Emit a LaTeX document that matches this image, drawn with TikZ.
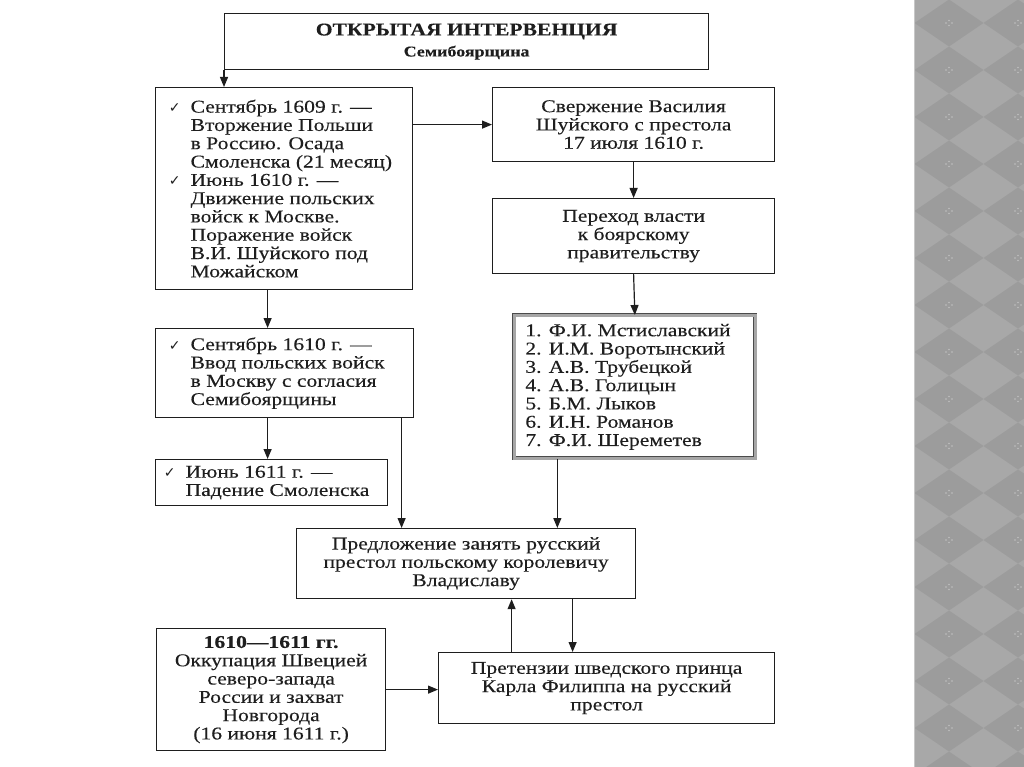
\documentclass[tikz,border=0pt]{standalone}
\usepackage{fontspec}
\setmainfont{Liberation Serif}[FakeStretch=1.2, FakeBold=0.25]
\newfontfamily\symfont{DejaVu Sans}
\usetikzlibrary{arrows.meta, positioning}
\definecolor{ink}{HTML}{1E1E1E}
\definecolor{bandgray}{HTML}{A8A8A8}
\definecolor{banddark}{HTML}{9C9C9C}
\newcommand{\boxfont}{\fontsize{18}{18.3}\selectfont}
\newcommand{\chk}{\llap{{\symfont\fontsize{14}{14}\selectfont ✓}\hspace{10pt}}}
% left-aligned block of lines, indented by #1 inside a box #2 wide
\newcommand{\listtext}[3]{\begin{minipage}{#2}\leftskip=#1\leavevmode #3\end{minipage}}
\tikzset{
    box/.style={rectangle, draw=ink, line width=1.2pt, inner sep=0pt, anchor=north west, align=center, text=ink, font=\boxfont},
    arrow/.style={-{Triangle[length=10pt,width=8pt]}, line width=1.2pt, ink},
}

\begin{document}
\begin{tikzpicture}[x=1pt, y=-1pt]
\useasboundingbox (0,0) rectangle (1024,767);

% Decorative band on the right
\fill[bandgray] (914,0) rectangle (1024,767);
\begin{scope}
  \clip (914,0) rectangle (1024,767);
  \foreach \cy in {-24,23,...,800} {
    \foreach \cx in {880,949,1018} {
      \fill[banddark] (\cx-34.5,\cy) -- (\cx,\cy-23.5) -- (\cx+34.5,\cy) -- (\cx,\cy+23.5) -- cycle;
      \fill[black!25] (\cx-3,\cy) circle (0.8) (\cx+3,\cy) circle (0.8) (\cx,\cy-2.5) circle (0.8) (\cx,\cy+2.5) circle (0.8);
    }
  }
\end{scope}
\draw[black!22, line width=1pt] (914.5,0) -- (914.5,767);

% Heading
\node[box, minimum width=484pt, minimum height=56pt, font=\fontsize{18}{21}\selectfont\bfseries] (intervention) at (224,13)
  {ОТКРЫТАЯ ИНТЕРВЕНЦИЯ\\{\fontsize{15}{18}\selectfont Семибоярщина}};

% Left column: Polish events
\node[box, minimum height=202pt] (invasion) at (155,87)
  {\listtext{35pt}{257pt}{\chk Сентябрь 1609 г. —\\ Вторжение Польши\\ в Россию. Осада\\ Смоленска (21 месяц)\\
   \chk Июнь 1610 г. —\\ Движение польских\\ войск к Москве.\\ Поражение войск\\ В.И. Шуйского под\\ Можайском}};
\node[box, minimum height=89pt] (entry) at (155,328)
  {\listtext{35pt}{258pt}{\chk Сентябрь 1610 г. —\\ Ввод польских войск\\ в Москву с согласия\\ Семибоярщины}};
\node[box, minimum height=46pt] (smolensk) at (155,459)
  {\listtext{30pt}{232pt}{\chk Июнь 1611 г. —\\ Падение Смоленска}};

% Right column: Moscow government
\node[box, minimum width=282pt, minimum height=74pt] (overthrow) at (492,87)
  {Свержение Василия\\Шуйского с престола\\17 июля 1610 г.};
\node[box, minimum width=282pt, minimum height=75pt] (power) at (492,198)
  {Переход власти\\к боярскому\\правительству};
\node[box, minimum height=143pt, draw=ink!80, line width=0.7pt, double=black!35, double distance=2.4pt] (boyars) at (514,315)
  {\listtext{11pt}{241pt}{1. Ф.И. Мстиславский\\ 2. И.М. Воротынский\\ 3. А.В. Трубецкой\\ 4. А.В. Голицын\\
   5. Б.М. Лыков\\ 6. И.Н. Романов\\ 7. Ф.И. Шереметев}};

% Bottom: offer and Swedish claims
\node[box, minimum width=339pt, minimum height=70pt] (offer) at (296,528)
  {Предложение занять русский\\престол польскому королевичу\\Владиславу};
\node[box, minimum width=336pt, minimum height=71pt] (claim) at (438,652)
  {Претензии шведского принца\\Карла Филиппа на русский\\престол};
\node[box, minimum width=229pt, minimum height=122pt] (sweden) at (156,628)
  {\textbf{1610—1611 гг.}\\Оккупация Швецией\\северо-запада\\России и захват\\Новгорода\\(16 июня 1611 г.)};

% Connections
\coordinate (invdown) at ([xshift=-16.5pt]invasion.south);
\coordinate (entrydown) at ([xshift=-17pt]entry.south);
\coordinate (entryoffer) at ([xshift=117pt]entry.south);
\coordinate (boyarsdown) at ([xshift=-77.5pt]boyars.south);
\coordinate (claimup) at ([xshift=-95pt]claim.north);
\coordinate (offerdown) at ([xshift=106.5pt]offer.south);

\draw[arrow] (intervention.south west) -- (intervention.south west |- invasion.north);
\draw[arrow] (overthrow.west -| invasion.east) -- (overthrow.west);
\draw[arrow] (overthrow.south) -- (power.north);
\draw[arrow] (power.south) -- (boyars.north);
\draw[arrow] (invdown) -- (invdown |- entry.north);
\draw[arrow] (entrydown) -- (entrydown |- smolensk.north);
\draw[arrow] (entryoffer) -- (entryoffer |- offer.north);
\draw[arrow] (boyarsdown) -- (boyarsdown |- offer.north);
\draw[arrow] (claimup) -- (claimup |- offer.south);
\draw[arrow] (offerdown) -- (offerdown |- claim.north);
\draw[arrow] (sweden.east) -- (sweden.east -| claim.west);
\end{tikzpicture}
\end{document}
